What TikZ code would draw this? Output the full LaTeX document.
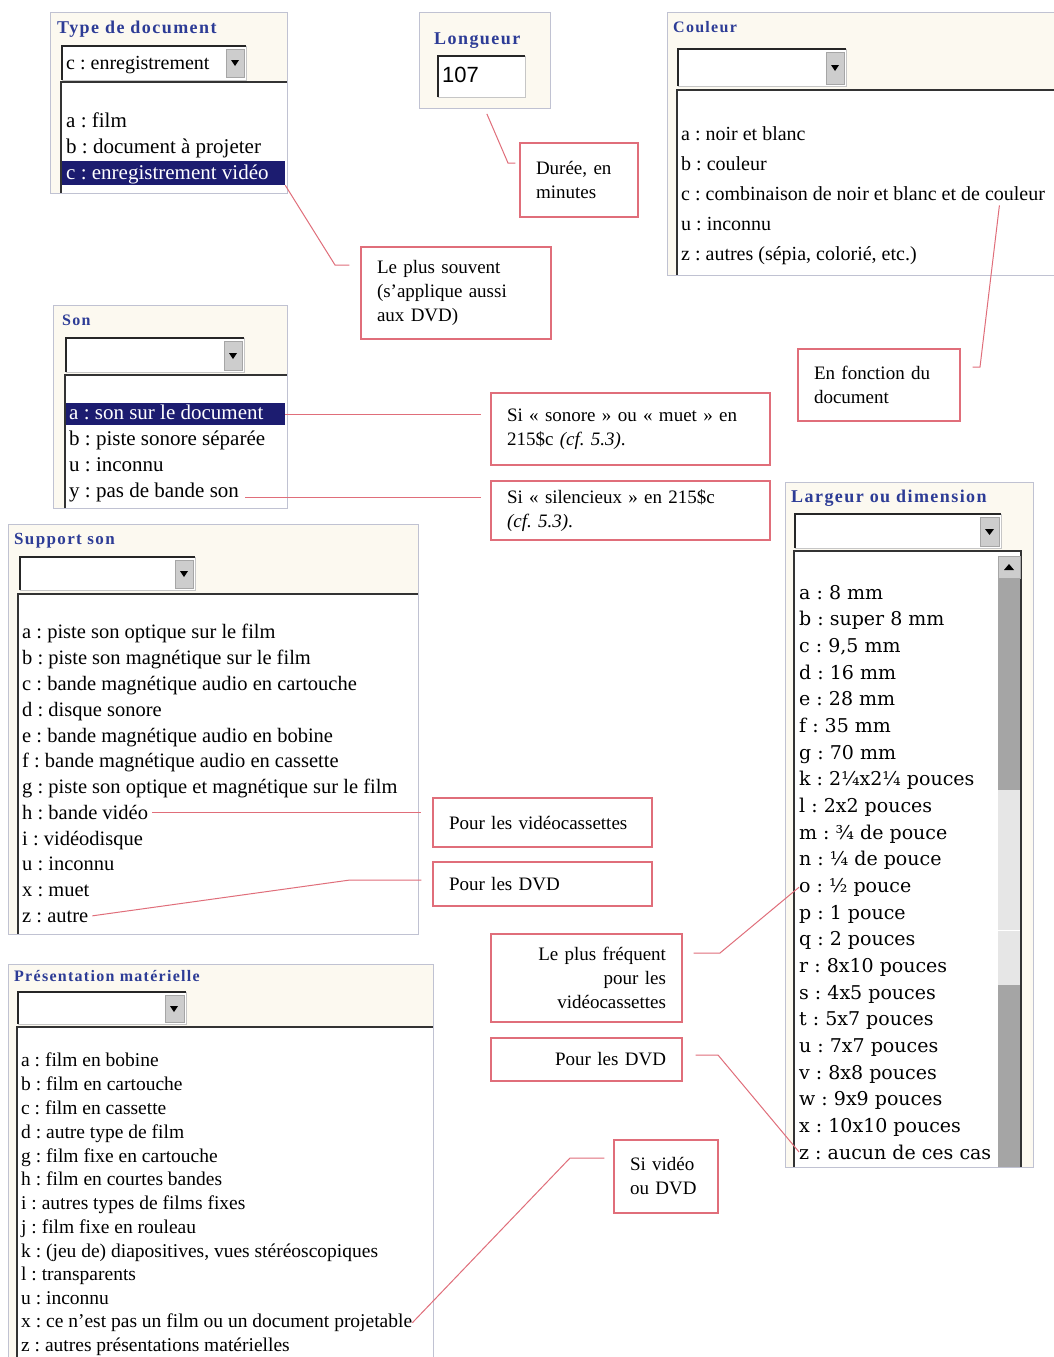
\documentclass[tikz,border=0pt]{standalone}
\usepackage{fontspec}
\setmainfont{Liberation Serif}
\newfontfamily\ttlfont[LetterSpace=8.0]{Liberation Serif}
\newfontfamily\slabfont{DejaVu Serif}
\newfontfamily\numfont{Liberation Sans}
\usepackage{xcolor}
\usepackage{tikz}
\usetikzlibrary{arrows.meta,positioning,calc}
\definecolor{beige}{RGB}{252,249,240}
\definecolor{panelline}{RGB}{192,194,210}
\definecolor{ttlblue}{RGB}{45,60,150}
\definecolor{selnavy}{RGB}{28,28,112}
\definecolor{cred}{RGB}{224,110,122}
\definecolor{btngray}{RGB}{205,205,205}
\definecolor{scrolldark}{RGB}{165,165,165}
\definecolor{scrolllight}{RGB}{230,230,230}
\frenchspacing

\begin{document}
\begin{tikzpicture}[x=1pt, y=-1pt,
        panel/.style={draw=panelline, fill=beige, line width=0.8pt, inner sep=0pt},
        ttl/.style={anchor=base west, inner sep=0pt, text=ttlblue,
              font=\ttlfont\bfseries\fontsize{18}{20}\selectfont},
        combo/.style={draw=gray!45, fill=white, line width=0.8pt},
        sunk/.style={draw=black!85, line width=2pt},
        btn/.style={draw=gray!70, fill=btngray, line width=0.6pt},
        listedge/.style={draw=black!80, line width=1.5pt},
        item/.style={anchor=base west, inner sep=0pt, font=\fontsize{20.5}{24}\selectfont},
        bigitem/.style={item, font=\fontsize{21}{25}\selectfont},
        smallitem/.style={item, font=\fontsize{19.5}{22}\selectfont},
        slabitem/.style={item, font=\slabfont\fontsize{19}{22}\selectfont},
        sel/.style={fill=selnavy, inner sep=0pt},
        callout/.style={draw=cred, fill=white, line width=1.2pt, inner xsep=16pt, inner ysep=0pt,
              align=left, font=\fontsize{19}{24}\selectfont},
        conn/.style={draw=cred, line width=1pt}]
        \useasboundingbox (0,0) rectangle (1054,1357);
        \fill[white] (0,0) rectangle (1054,1357);
        \clip (0,0) rectangle (1054,1357);

        \node[panel, minimum width=237pt, minimum height=181pt] (typedoc) at (168.5,102.5) {};
        \fill[white] (61,82) rectangle (286.6,192.6);
        \draw[listedge] (61,192.6) -- (61,82) -- (286.6,82);
        \draw[combo] (62,46) rectangle (246,80);
        \draw[sunk] (62,80) -- (62,46) -- (246,46);
        \draw[btn] (226,49) rectangle (244,77);
        \fill (231,60) -- (239,60) -- (235,66) -- cycle;
        \node[ttl] (typettl) at (57,33) {Type de document};
        \node[item, font=\fontsize{20}{24}\selectfont] (tdcombo) at (66,69) {c : enregistrement};
        \node[bigitem] (tda) at (66,127) {a : film};
        \node[bigitem] (tdb) at (66,153) {b : document à projeter};
        \node[sel, minimum width=223pt, minimum height=24pt] (tdsel) at (173.5,173) {};
        \node[bigitem, text=white] (tdc) at (66,179) {c : enregistrement vidéo};

        \node[panel, minimum width=131pt, minimum height=96pt] (longueur) at (484.5,60) {};
        \node[ttl] (longttl) at (434,44) {Longueur};
        \draw[combo] (438,56) rectangle (525,97);
        \draw[sunk] (438,97) -- (438,56) -- (525,56);
        \node[item, font=\numfont\fontsize{22}{24}\selectfont] (longval) at (442,82) {107};

        \node[panel, minimum width=393pt, minimum height=263pt] (couleur) at (863.5,143.5) {};
        \fill[white] (677,90) rectangle (1060,274.6);
        \draw[listedge] (677,274.6) -- (677,90) -- (1060,90);
        \draw[combo] (678,49) rectangle (846,86);
        \draw[sunk] (678,86) -- (678,49) -- (846,49);
        \draw[btn] (826,52) rectangle (844,84);
        \fill (831,65) -- (839,65) -- (835,71) -- cycle;
        \node[ttl, font=\ttlfont\bfseries\fontsize{16}{18}\selectfont] (coulttl) at (673,32) {Couleur};
        \node[item, font=\fontsize{20}{24}\selectfont] (cla) at (681,140) {a : noir et blanc};
        \node[item, font=\fontsize{20}{24}\selectfont] (clb) at (681,170) {b : couleur};
        \node[item, font=\fontsize{20}{24}\selectfont] (clc) at (681,200) {c : combinaison de noir et blanc et de couleur};
        \node[item, font=\fontsize{20}{24}\selectfont] (clu) at (681,230) {u : inconnu};
        \node[item, font=\fontsize{20}{24}\selectfont] (clz) at (681,260) {z : autres (sépia, colorié, etc.)};

        \node[panel, minimum width=234pt, minimum height=203pt] (son) at (170,406.5) {};
        \fill[white] (65,375) rectangle (286.6,507.6);
        \draw[listedge] (65,507.6) -- (65,375) -- (286.6,375);
        \draw[combo] (66,338) rectangle (244,372);
        \draw[sunk] (66,372) -- (66,338) -- (244,338);
        \draw[btn] (224,341) rectangle (242,370);
        \fill (229,353) -- (237,353) -- (233,359) -- cycle;
        \node[ttl, font=\ttlfont\bfseries\fontsize{16}{18}\selectfont] (sonttl) at (62,325) {Son};
        \node[sel, minimum width=219pt, minimum height=22pt] (snsel) at (175.5,414) {};
        \node[bigitem, text=white] (sna) at (69,419) {a : son sur le document};
        \node[bigitem] (snb) at (69,445) {b : piste sonore séparée};
        \node[bigitem] (snu) at (69,471) {u : inconnu};
        \node[bigitem] (sny) at (69,497) {y : pas de bande son};

        \node[panel, minimum width=410pt, minimum height=410pt] (support) at (213,729) {};
        \fill[white] (18,594) rectangle (417.6,933.6);
        \draw[listedge] (18,933.6) -- (18,594) -- (417.6,594);
        \draw[combo] (20,557) rectangle (195,590);
        \draw[sunk] (20,590) -- (20,557) -- (195,557);
        \draw[btn] (175,560) rectangle (193,588);
        \fill (180,571) -- (188,571) -- (184,577) -- cycle;
        \node[ttl, font=\ttlfont\bfseries\fontsize{17}{19}\selectfont] (supttl) at (14,544) {Support son};
        \node[item] (spa) at (22,638) {a : piste son optique sur le film};
        \node[item] (spb) at (22,664) {b : piste son magnétique sur le film};
        \node[item] (spc) at (22,690) {c : bande magnétique audio en cartouche};
        \node[item] (spd) at (22,716) {d : disque sonore};
        \node[item] (spe) at (22,742) {e : bande magnétique audio en bobine};
        \node[item] (spf) at (22,767) {f : bande magnétique audio en cassette};
        \node[item] (spg) at (22,793) {g : piste son optique et magnétique sur le film};
        \node[item] (sph) at (22,819) {h : bande vidéo};
        \node[item] (spi) at (22,845) {i : vidéodisque};
        \node[item] (spu) at (22,870) {u : inconnu};
        \node[item] (spx) at (22,896) {x : muet};
        \node[item] (spz) at (22,922) {z : autre};

        \node[panel, minimum width=248pt, minimum height=685pt] (largeur) at (909,824.5) {};
        \fill[white] (794,551) rectangle (1021,1166.6);
        \fill[scrolllight] (998,556) rectangle (1020,1166.6);
        \fill[scrolldark] (998,578) rectangle (1020,790);
        \fill[scrolldark] (998,985) rectangle (1020,1166.6);
        \draw[white, line width=1pt] (998,930) -- (1020,930);
        \draw[listedge] (794,1166.6) -- (794,551) -- (1021,551) -- (1021,1166.6);
        \draw[btn] (998,556) rectangle (1020,578);
        \fill (1004,570) -- (1014,570) -- (1009,564) -- cycle;
        \draw[combo] (795,514) rectangle (1001,548);
        \draw[sunk] (795,548) -- (795,514) -- (1001,514);
        \draw[btn] (980,517) rectangle (999,546);
        \fill (985,529) -- (994,529) -- (989.5,535) -- cycle;
        \node[ttl] (largttl) at (791,502) {Largeur ou dimension};
        \node[slabitem] (lra) at (799,599) {a : 8 mm};
        \node[slabitem] (lrb) at (799,625.7) {b : super 8 mm};
        \node[slabitem] (lrc) at (799,652.3) {c : 9,5 mm};
        \node[slabitem] (lrd) at (799,679) {d : 16 mm};
        \node[slabitem] (lre) at (799,705.7) {e : 28 mm};
        \node[slabitem] (lrf) at (799,732.3) {f : 35 mm};
        \node[slabitem] (lrg) at (799,759) {g : 70 mm};
        \node[slabitem] (lrk) at (799,785.7) {k : 2¼x2¼ pouces};
        \node[slabitem] (lrl) at (799,812.3) {l : 2x2 pouces};
        \node[slabitem] (lrm) at (799,839) {m : ¾ de pouce};
        \node[slabitem] (lrn) at (799,865.7) {n : ¼ de pouce};
        \node[slabitem] (lro) at (799,892.3) {o : ½ pouce};
        \node[slabitem] (lrp) at (799,919) {p : 1 pouce};
        \node[slabitem] (lrq) at (799,945.7) {q : 2 pouces};
        \node[slabitem] (lrr) at (799,972.3) {r : 8x10 pouces};
        \node[slabitem] (lrs) at (799,999) {s : 4x5 pouces};
        \node[slabitem] (lrt) at (799,1025.7) {t : 5x7 pouces};
        \node[slabitem] (lru) at (799,1052.3) {u : 7x7 pouces};
        \node[slabitem] (lrv) at (799,1079) {v : 8x8 pouces};
        \node[slabitem] (lrw) at (799,1105.7) {w : 9x9 pouces};
        \node[slabitem] (lrx) at (799,1132.3) {x : 10x10 pouces};
        \node[slabitem] (lrz) at (799,1159) {z : aucun de ces cas};

        \node[panel, minimum width=425pt, minimum height=401pt] (presentation) at (220.5,1164.5) {};
        \fill[white] (17,1027) rectangle (432.6,1365);
        \draw[listedge] (17,1365) -- (17,1027) -- (432.6,1027);
        \draw[combo] (18,992) rectangle (186,1024);
        \draw[sunk] (18,1024) -- (18,992) -- (186,992);
        \draw[btn] (165,995) rectangle (184,1022);
        \fill (170,1006) -- (178,1006) -- (174,1012) -- cycle;
        \node[ttl, font=\ttlfont\bfseries\fontsize{16}{18}\selectfont] (presttl) at (14,981)
              {Présentation matérielle};
        \node[smallitem] (pma) at (21,1066.5) {a : film en bobine};
        \node[smallitem] (pmb) at (21,1090.5) {b : film en cartouche};
        \node[smallitem] (pmc) at (21,1114.5) {c : film en cassette};
        \node[smallitem] (pmd) at (21,1138.5) {d : autre type de film};
        \node[smallitem] (pmg) at (21,1162.5) {g : film fixe en cartouche};
        \node[smallitem] (pmh) at (21,1185.5) {h : film en courtes bandes};
        \node[smallitem] (pmi) at (21,1209.5) {i : autres types de films fixes};
        \node[smallitem] (pmj) at (21,1233.5) {j : film fixe en rouleau};
        \node[smallitem] (pmk) at (21,1257.5) {k : (jeu de) diapositives, vues stéréoscopiques};
        \node[smallitem] (pml) at (21,1280.5) {l : transparents};
        \node[smallitem] (pmu) at (21,1304.5) {u : inconnu};
        \node[smallitem] (pmx) at (21,1327.5) {x : ce n'est pas un film ou un document projetable};
        \node[smallitem] (pmz) at (21,1351.5) {z : autres présentations matérielles};

        \node[callout, text width=86pt, minimum height=74pt] (duree) at (579,180)
              {Durée, en\\minutes};
        \node[callout, text width=158pt, minimum height=92pt] (souvent) at (456,293)
              {Le plus souvent\\(s’applique aussi\\aux DVD)};
        \node[callout, text width=130pt, minimum height=72pt] (fonction) at (879,385)
              {En fonction du\\document};
        \node[callout, text width=247pt, minimum height=72pt] (sonore) at (630.5,429)
              {Si «~sonore~» ou «~muet~» en\\215\$c \textit{(cf. 5.3)}.};
        \node[callout, text width=247pt, minimum height=59pt] (silence) at (630.5,510.5)
              {Si «~silencieux~» en 215\$c\\\textit{(cf. 5.3)}.};
        \node[callout, text width=187pt, minimum height=49pt] (vcass) at (542.5,822.5)
              {Pour les vidéocassettes};
        \node[callout, text width=187pt, minimum height=44pt] (dvd1) at (542.5,884)
              {Pour les DVD};
        \node[callout, align=right, text width=159pt, minimum height=88pt] (frequent) at (586.5,978)
              {Le plus fréquent\\pour les\\vidéocassettes};
        \node[callout, align=right, text width=159pt, minimum height=43pt] (dvd2) at (586.5,1059.5)
              {Pour les DVD};
        \node[callout, text width=72pt, minimum height=73pt] (sivideo) at (666,1176.5)
              {Si vidéo\\ou DVD};

        \draw[conn, shorten <=6pt, shorten >=4pt] (longueur.south) -- (508,163) -- (duree.west |- 0,163);
        \draw[conn, shorten >=11pt] (tdsel.south east) -- (335,265) -- (souvent.west |- 0,265);
        \draw[conn, shorten <=5pt, shorten >=12pt] (clc.south -| 1000,0) -- (980,367) -- (fonction.east |- 0,367);
        \draw[conn, shorten >=9pt] (snsel.east) -- (sonore.west |- snsel.east);
        \draw[conn, shorten <=6pt, shorten >=9pt] (sny.base east) -- (silence.west |- sny.base east);
        \draw[conn, shorten <=4pt, shorten >=11pt] (sph.east) -- (vcass.west |- sph.east);
        \draw[conn, shorten <=4pt, shorten >=11pt] (spz.east) -- (350,880) -- (dvd1.west |- 0,880);
        \draw[conn, shorten <=11pt] (frequent.east |- 0,953) -- (720,953) -- (lro.west);
        \draw[conn, shorten <=13pt] (dvd2.east |- 0,1055) -- (718,1055) -- (lrz.west);
        \draw[conn, shorten <=9pt] (sivideo.west |- 0,1158) -- (570,1158) -- (pmx.east);
    \end{tikzpicture}
\end{document}
